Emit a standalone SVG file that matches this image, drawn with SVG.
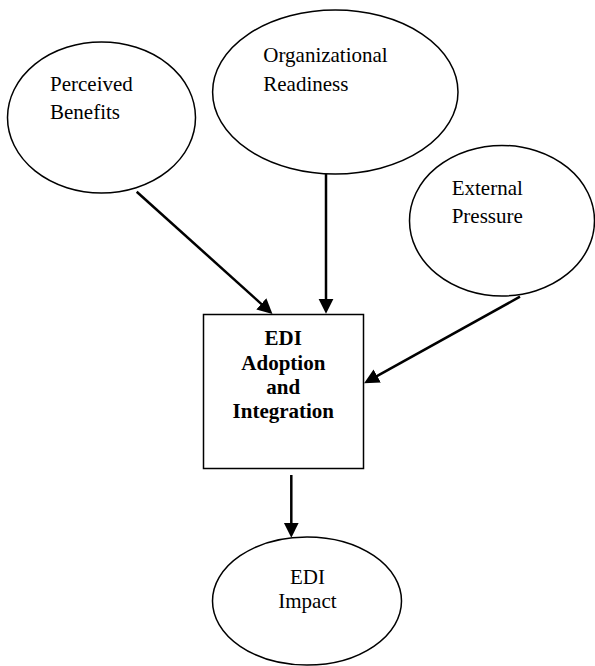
<svg xmlns="http://www.w3.org/2000/svg" width="595" height="666" viewBox="0 0 595 666">
<style>
.n{fill:#fff;stroke:#000;stroke-width:1.5}
.t{font-family:"Liberation Serif","Times New Roman",serif;font-size:21px;fill:#000}
.b{font-weight:bold;text-anchor:middle}
.c{stroke:#000;stroke-width:2.5;fill:none;marker-end:url(#ah)}
</style>
<defs>
<marker id="ah" markerUnits="userSpaceOnUse" markerWidth="16" markerHeight="16" refX="4" refY="7.5" orient="auto" viewBox="0 0 16 15">
<path d="M0,0 L15,7.5 L0,15 z" fill="#000"/>
</marker>
</defs>
<rect width="595" height="666" fill="#fff"/>
<g id="perceived-benefits">
<ellipse class="n" cx="101.5" cy="117.5" rx="94" ry="75.5"/>
<text class="t" x="50" y="91">Perceived</text>
<text class="t" x="50" y="119">Benefits</text>
</g>
<g id="organizational-readiness">
<ellipse class="n" cx="335.3" cy="92" rx="122.7" ry="82"/>
<text class="t" x="263.3" y="62.3">Organizational</text>
<text class="t" x="263.3" y="90.7">Readiness</text>
</g>
<g id="external-pressure">
<ellipse class="n" cx="502" cy="220.7" rx="92.5" ry="75.3"/>
<text class="t" x="451.7" y="195">External</text>
<text class="t" x="451.7" y="222.7">Pressure</text>
</g>
<g id="edi-adoption">
<rect class="n" x="203.5" y="314.5" width="160" height="154"/>
<text class="t b" x="283.3" y="345">EDI</text>
<text class="t b" x="283.3" y="370">Adoption</text>
<text class="t b" x="283.3" y="393.5">and</text>
<text class="t b" x="283.3" y="418.3">Integration</text>
</g>
<g id="edi-impact">
<ellipse class="n" cx="307" cy="601" rx="94.5" ry="64"/>
<text class="t" x="290" y="584">EDI</text>
<text class="t" x="278.3" y="608.3">Impact</text>
</g>
<g id="connectors">
<path class="c" d="M136.7,191.7 L264.3,306.6"/>
<path class="c" d="M326,174 L326,302.7"/>
<path class="c" d="M520,296.7 L373.7,377.9"/>
<path class="c" d="M291.3,475 L291.3,526.7"/>
</g>
</svg>
